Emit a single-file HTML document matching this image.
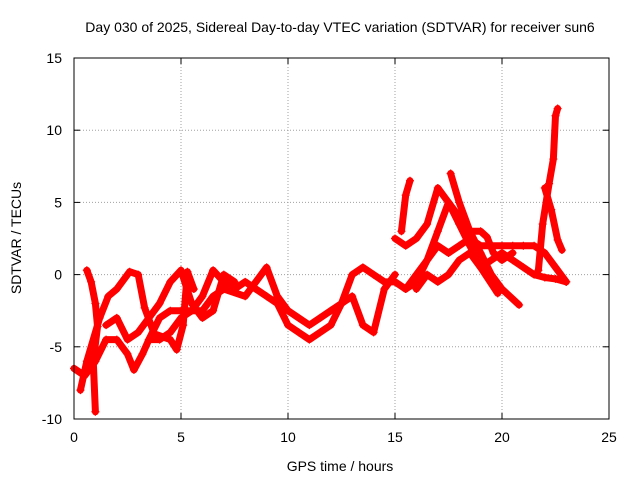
<!DOCTYPE html>
<html><head><meta charset="utf-8"><style>
body{margin:0;background:#fff;}
svg{display:block;font-family:"Liberation Sans",sans-serif;}
</style></head><body>
<svg id="chart" width="640" height="480" xmlns="http://www.w3.org/2000/svg">
<rect width="640" height="480" fill="#fff"/>
<text x="340" y="32" font-size="14" text-anchor="middle">Day 030 of 2025, Sidereal Day-to-day VTEC variation (SDTVAR) for receiver sun6</text>
<text x="340" y="471" font-size="14" text-anchor="middle">GPS time / hours</text>
<text transform="translate(21,238) rotate(-90)" font-size="14" text-anchor="middle">SDTVAR / TECUs</text>
<g id="grid"></g><g id="ticks"></g><g id="marks"></g>
<rect x="74" y="58" width="535" height="361" fill="none" stroke="#000" stroke-width="1"/>
</svg>
<script>
const xTicks=[0,5,10,15,20,25];
const yTicks=[-10,-5,0,5,10,15];
const trackA=[[0,-6.5],[0.5,-7],[1,-6],[1.5,-4.5],[2,-4.5],[2.5,-5.5],[2.8,-6.6],[3.2,-5.5],[3.5,-4.5],[4,-3],[4.5,-2.5],[5,-2.5],[5.5,-2.5],[6,-1.5],[6.5,0.3],[7,-0.5],[7.5,-1],[8,-0.5],[8.5,-1],[9,-1.5],[9.5,-2],[10,-3.5],[10.5,-4],[11,-4.5],[11.5,-4],[12,-3.5],[12.5,-2],[13,-1.5],[13.5,-3.5],[14,-4],[14.5,-1],[15,0]];
const trackB=[[0.6,0.3],[0.8,-0.5],[1,-2],[1.1,-3.6],[0.9,-6],[1,-9.5]];
const trackC=[[0.3,-8],[0.6,-6],[1.2,-3],[1.6,-1.5],[2,-1],[2.6,0.2],[3,0],[3.3,-2.3],[3.75,-4.1],[4.5,-4.5],[4.8,-5.2],[5.1,-3.5],[5.3,0.2],[5.6,-1]];
const trackD=[[1.5,-3.5],[2,-3],[2.5,-4.5],[3,-4],[3.5,-3],[4,-2],[4.5,-0.5],[5,0.3],[5.5,-2],[6,-3],[6.5,-2.5],[7,0],[7.5,-0.5]];
const trackE=[[3.5,-4.5],[4,-4.5],[4.5,-4],[5,-3],[5.5,-2.5],[6,-2.5],[6.5,-1.5],[7,-1],[8,-1.5],[8.5,-0.5],[9,0.5],[9.5,-1.5],[10,-2.5],[10.5,-3],[11,-3.5],[11.5,-3],[12,-2.5],[12.5,-2],[13,0],[13.5,0.5],[14,0],[14.5,-0.5],[15,-0.5],[15.5,-1],[16,-0.5],[16.5,1],[17,3],[17.5,5],[18,4],[18.5,3],[19,3],[19.3,2.6],[19.6,1.5],[20,1],[20.5,1.5]];
const trackF=[[15,2.5],[15.5,2],[16,2.5],[16.5,3.5],[17,6],[17.5,5],[18,3.5],[18.5,2],[19,0.5],[19.8,-1.3]];
const trackG=[[15.3,3],[15.5,5.5],[15.7,6.5]];
const trackH=[[17.6,7],[18,5],[18.5,3],[19,1.5],[19.5,0],[20,-1],[20.8,-2.1]];
const trackI=[[15.5,-1],[16,0],[16.5,1],[17,2],[17.5,1.5],[18,2],[18.5,2.5],[19,2],[19.5,2],[20,2],[20.5,2],[21,2],[21.5,2],[22,1.5],[22.5,0.5],[23,-0.5]];
const trackJ=[[21.7,0.3],[21.9,3.5],[22.2,6.3],[22.4,8],[22.5,11],[22.6,11.5]];
const trackK=[[22,6],[22.3,4.5],[22.6,2.4],[22.8,1.7]];
const trackL=[[16,-1],[16.5,0],[17,-0.5],[17.5,0],[18,1],[18.5,1.5],[19,0.5],[19.5,1],[20,1.5],[20.5,1],[21,0.5],[21.5,0],[22,-0.2],[22.5,-0.3],[23,-0.5]];
const tracks=[trackA,trackB,trackC,trackD,trackE,trackF,trackG,trackH,trackI,trackJ,trackK,trackL];
const NS="http://www.w3.org/2000/svg";
const xs=t=>74+(t-0)/25*535;
const ys=v=>419-(v+10)/25*361;
function mk(tag,attrs,parent){const e=document.createElementNS(NS,tag);for(const k in attrs)e.setAttribute(k,attrs[k]);parent.appendChild(e);return e;}
const grid=document.getElementById('grid'),ticks=document.getElementById('ticks'),marks=document.getElementById('marks');
xTicks.forEach(t=>{const x=xs(t);
 if(t>0&&t<25){const g=mk('line',{x1:x,x2:x,y1:58,y2:419,stroke:'#a0a0a0','stroke-dasharray':'1,2'},grid);
 
 }
 mk('line',{x1:x,x2:x,y1:419,y2:413,stroke:'#000'},ticks);mk('line',{x1:x,x2:x,y1:58,y2:64,stroke:'#000'},ticks);
 const l=mk('text',{x:x,y:442,'font-size':14,'text-anchor':'middle'},ticks);l.textContent=t;
 
 });
yTicks.forEach(v=>{const y=ys(v);
 if(v>-10&&v<15){const g=mk('line',{x1:74,x2:609,y1:y,y2:y,stroke:'#a0a0a0','stroke-dasharray':'1,2'},grid);
 
 }
 mk('line',{x1:74,x2:80,y1:y,y2:y,stroke:'#000'},ticks);mk('line',{x1:609,x2:603,y1:y,y2:y,stroke:'#000'},ticks);
 const l=mk('text',{x:62,y:y+5,'font-size':14,'text-anchor':'end'},ticks);l.textContent=v;
 
 });
tracks.forEach((tr,i)=>{
 const pl=mk('polyline',{points:tr.map(p=>xs(p[0])+','+ys(p[1])).join(' '),fill:'none',stroke:'#f00','stroke-width':7,'stroke-linejoin':'round','stroke-linecap':'round'},marks);
 
 
 tr.forEach(p=>{const x=xs(p[0]),y=ys(p[1]);
  const m=mk('path',{d:`M${x-4},${y}H${x+4}M${x},${y-4}V${y+4}`,stroke:'#f00','stroke-width':1.2},marks);
  
  });
});
</script>
</body></html>
